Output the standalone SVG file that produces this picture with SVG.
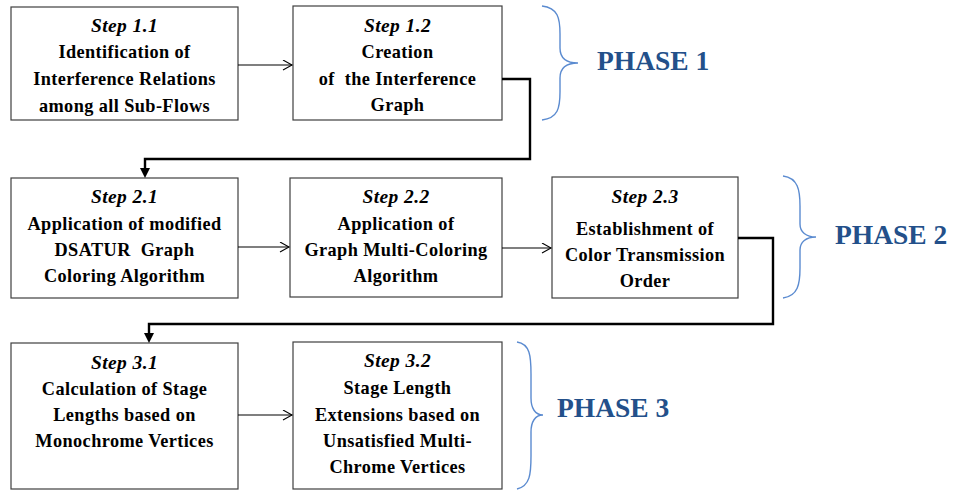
<svg xmlns="http://www.w3.org/2000/svg" width="954" height="490" viewBox="0 0 954 490">
  <style>
    .box { fill: #ffffff; stroke: #3f3f3f; stroke-width: 1.2; }
    .t { font-family: "Liberation Serif", "Times New Roman", serif; font-weight: bold; font-size: 18.3px; letter-spacing: 0.4px; fill: #000000; text-anchor: middle; white-space: pre; }
    .st { font-style: italic; font-size: 19.5px; }
    .flow { fill: none; stroke: #000000; stroke-width: 1.2; }
    .loop { fill: none; stroke: #000000; stroke-width: 2.4; }
    .brace { fill: none; stroke: #5b8bd0; stroke-width: 1.4; }
    .phase { font-family: "Liberation Serif", "Times New Roman", serif; font-weight: bold; font-size: 27.5px; fill: #23508a; }
  </style>
  <defs>
    <marker id="open" markerWidth="12" markerHeight="12" refX="10" refY="5" orient="auto" markerUnits="userSpaceOnUse">
      <path d="M1,0 L10,5 L1,10" fill="none" stroke="#000" stroke-width="1.1"/>
    </marker>
  </defs>

  <!-- Phase 1 -->
  <g id="step-1-1">
    <rect class="box" x="11" y="7" width="227" height="113"/>
    <text class="t"><tspan class="st" x="124.5" y="32">Step 1.1</tspan><tspan x="124.5" y="58">Identification of</tspan><tspan x="124.5" y="85">Interference Relations</tspan><tspan x="124.5" y="112">among all Sub-Flows</tspan></text>
  </g>
  <g id="step-1-2">
    <rect class="box" x="293" y="6" width="209" height="114"/>
    <text class="t"><tspan class="st" x="397.5" y="32">Step 1.2</tspan><tspan x="397.5" y="58">Creation</tspan><tspan x="397.5" y="85">of  the Interference</tspan><tspan x="397.5" y="111">Graph</tspan></text>
  </g>

  <!-- Phase 2 -->
  <g id="step-2-1">
    <rect class="box" x="11" y="178" width="227" height="120"/>
    <text class="t"><tspan class="st" x="124.5" y="203">Step 2.1</tspan><tspan x="124.5" y="230">Application of modified</tspan><tspan x="124.5" y="256">DSATUR  Graph</tspan><tspan x="124.5" y="282">Coloring Algorithm</tspan></text>
  </g>
  <g id="step-2-2">
    <rect class="box" x="290" y="178" width="212" height="119"/>
    <text class="t"><tspan class="st" x="396" y="203">Step 2.2</tspan><tspan x="396" y="230">Application of</tspan><tspan x="396" y="256">Graph Multi-Coloring</tspan><tspan x="396" y="282">Algorithm</tspan></text>
  </g>
  <g id="step-2-3">
    <rect class="box" x="552" y="177" width="186" height="121"/>
    <text class="t"><tspan class="st" x="645" y="203">Step 2.3</tspan><tspan x="645" y="235">Establishment of</tspan><tspan x="645" y="261">Color Transmission</tspan><tspan x="645" y="287">Order</tspan></text>
  </g>

  <!-- Phase 3 -->
  <g id="step-3-1">
    <rect class="box" x="11" y="343" width="227" height="146"/>
    <text class="t"><tspan class="st" x="124.5" y="369">Step 3.1</tspan><tspan x="124.5" y="395">Calculation of Stage</tspan><tspan x="124.5" y="421">Lengths based on</tspan><tspan x="124.5" y="447">Monochrome Vertices</tspan></text>
  </g>
  <g id="step-3-2">
    <rect class="box" x="293" y="342" width="209" height="147"/>
    <text class="t"><tspan class="st" x="397.5" y="367">Step 3.2</tspan><tspan x="397.5" y="394">Stage Length</tspan><tspan x="397.5" y="421">Extensions based on</tspan><tspan x="397.5" y="447">Unsatisfied Multi-</tspan><tspan x="397.5" y="473">Chrome Vertices</tspan></text>
  </g>

  <!-- Phase labels with braces -->
  <g id="phase-1">
    <path class="brace" d="M542,6 C558,8 560,18 560,34 L560,48 C560,58 566,63 578,63 C566,63 560,68 560,78 L560,92 C560,108 558,118 542,120"/>
    <text class="phase" x="597" y="70">PHASE 1</text>
  </g>
  <g id="phase-2">
    <path class="brace" d="M783,176 C798,178 800,190 800,206 L800,224 C800,232 806,237 816,237 C806,237 800,242 800,250 L800,268 C800,284 798,296 783,298"/>
    <text class="phase" x="835" y="244">PHASE 2</text>
  </g>
  <g id="phase-3">
    <path class="brace" d="M517,342 C530,344 531,356 531,374 L531,398 C531,408 535,415 543,415 C535,415 531,422 531,432 L531,456 C531,474 530,486 517,489"/>
    <text class="phase" x="557" y="417">PHASE 3</text>
  </g>

  <!-- Connectors -->
  <g id="connectors">
    <line class="flow" x1="238" y1="65" x2="292" y2="65" marker-end="url(#open)"/>
    <line class="flow" x1="238" y1="247" x2="289" y2="247" marker-end="url(#open)"/>
    <line class="flow" x1="502" y1="248" x2="551" y2="248" marker-end="url(#open)"/>
    <line class="flow" x1="238" y1="415" x2="292" y2="415" marker-end="url(#open)"/>
    <polyline class="loop" points="502,79 530,79 530,159 145,159 145,170"/>
    <path d="M140,168 L150,168 L145,178 Z" fill="#000"/>
    <polyline class="loop" points="738,238 773,238 773,324 149,324 149,335"/>
    <path d="M144,333 L154,333 L149,343 Z" fill="#000"/>
  </g>
</svg>
